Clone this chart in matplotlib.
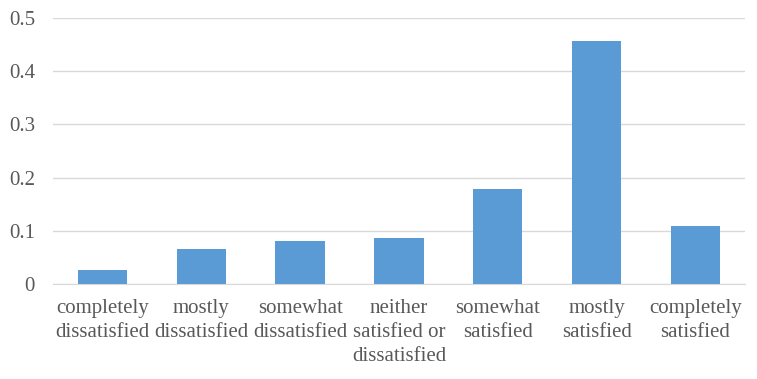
import matplotlib.pyplot as plt
import numpy as np

categories = ["completely\ndissatisfied", "mostly\ndissatisfied", "somewhat\ndissatisfied",
              "neither\nsatisfied or\ndissatisfied", "somewhat\nsatisfied", "mostly\nsatisfied",
              "completely\nsatisfied"]
values = [0.027, 0.065, 0.080, 0.087, 0.178, 0.457, 0.108]
yticks = [0, 0.1, 0.2, 0.3, 0.4, 0.5]
ytick_labels = ["0", "0.1", "0.2", "0.3", "0.4", "0.5"]

plt.rcParams['font.family'] = ['Liberation Serif', 'DejaVu Serif']

fig = plt.figure(figsize=(7.57, 3.79), dpi=100)
ax = fig.add_axes([0.070, 0.251, 0.914, 0.701])

x = np.arange(len(categories))
ax.bar(x, values, width=0.5, color='#5B9BD5', zorder=3)

ax.set_xlim(-0.5, len(categories) - 0.5)
ax.set_ylim(0, 0.5)
ax.set_yticks(yticks)
ax.set_yticklabels(ytick_labels)
ax.set_xticks(x)
ax.set_xticklabels(categories, linespacing=1.35)
ax.yaxis.grid(True, color='#D9D9D9', linewidth=1, zorder=0)
for s in ['top', 'right', 'left']:
    ax.spines[s].set_visible(False)
ax.spines['bottom'].set_color('#D9D9D9')
ax.tick_params(axis='both', length=0, labelsize=15, labelcolor='#595959')
ax.tick_params(axis='y', pad=13)
ax.tick_params(axis='x', pad=11)

fig.savefig('out.png', dpi=100)
